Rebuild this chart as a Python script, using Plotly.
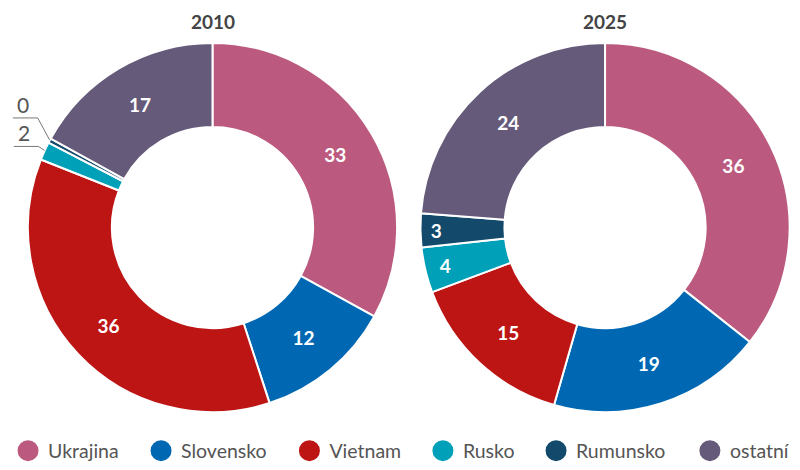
import math
import plotly.graph_objects as go

# Data
countries = ["Ukrajina", "Slovensko", "Vietnam", "Rusko", "Rumunsko", "ostatní"]
colors = ["#bb5a7e", "#0068b3", "#bd1414", "#00a0b8", "#134a6b", "#665a7a"]
values_2010 = [33, 12, 36, 1.6, 0.4, 17]
values_2025 = [36, 19, 15, 4, 3, 24]
years = ["2010", "2025"]

W, H = 800, 470
OFF = 8  # the page body adds an 8px margin, so draw everything 8px up/left
FONT = "Lato"
GREY = "#555555"

# donut geometry in screen pixels (centre x, centre y, radius)
donuts = [(208, 227.5, 186), (603.5, 227.5, 186)]
HOLE = 0.545
# legend: screen x of each round marker, common centre line
legend_x = [21, 155, 304.5, 439, 553, 708]
legend_y = 451


def px(x, y):
    return (x - OFF) / W, 1 - (y - OFF) / H


def outer_point(values, idx, cx, cy, r):
    # middle of slice idx, clockwise from 12 o'clock
    total = sum(values)
    before = sum(values[:idx]) + values[idx] / 2
    ang = 2 * math.pi * before / total
    return cx + r * math.sin(ang), cy - r * math.cos(ang)


fig = go.Figure()

for year, vals, (cx, cy, r) in zip(years, [values_2010, values_2025], donuts):
    x0, y1 = px(cx - r, cy - r)
    x1, y0 = px(cx + r, cy + r)
    # slices too thin for an inside label get a callout instead
    positions = ["inside" if v >= 2.5 else "none" for v in vals]
    fig.add_trace(go.Pie(
        labels=countries,
        values=vals,
        hole=HOLE,
        sort=False,
        direction="clockwise",
        rotation=0,
        domain=dict(x=[x0, x1], y=[y0, y1]),
        marker=dict(colors=colors, line=dict(color="white", width=2)),
        texttemplate="%{value:.0f}",
        textposition=positions,
        insidetextorientation="horizontal",
        textfont=dict(family=FONT, size=19, color="white", weight="bold"),
        showlegend=False,
        hoverinfo="label+value",
    ))
    tx = px(cx, 0)[0]
    fig.add_annotation(x=tx, y=1, xref="paper", yref="paper", text=year,
                       showarrow=False, xanchor="center", yanchor="top",
                       font=dict(family=FONT, size=19, color="#444444", weight="bold"))

# callouts for the tiny 2010 slices
cx, cy, r = donuts[0]
for idx, (dx, dy) in [(4, (-12, -22)), (3, (-6, -4))]:
    ox, oy = outer_point(values_2010, idx, cx, cy, r)
    ex, ey = ox + dx, oy + dy
    lx = ex - 25
    p0, p1, p2 = px(ox, oy), px(ex, ey), px(lx, ey)
    fig.add_shape(type="path", xref="paper", yref="paper",
                  path=f"M {p0[0]} {p0[1]} L {p1[0]} {p1[1]} L {p2[0]} {p2[1]}",
                  line=dict(color="#777777", width=1))
    ax, ay = px(ex - 15, ey + 1)
    fig.add_annotation(x=ax, y=ay, xref="paper", yref="paper",
                       text=f"{values_2010[idx]:.0f}", showarrow=False,
                       yanchor="bottom", xanchor="center",
                       font=dict(family=FONT, size=21, color=GREY))

# legend: one small legend per country so each entry sits where it should
legends = {}
for i, (name, col, lx) in enumerate(zip(countries, colors, legend_x)):
    key = "legend" if i == 0 else f"legend{i + 1}"
    fig.add_trace(go.Scatter(x=[None], y=[None], mode="markers", name=name,
                             legend=key,
                             marker=dict(symbol="circle", size=16, color=col,
                                         line=dict(color=col, width=5))))
    gx, gy = px(lx - 19, legend_y)
    legends[key] = dict(orientation="h", x=gx, xanchor="left", y=gy, yanchor="middle",
                        font=dict(family=FONT, size=19.5, color=GREY),
                        itemsizing="trace", bgcolor="rgba(0,0,0,0)")

fig.update_layout(
    width=W, height=H,
    margin=dict(l=0, r=0, t=0, b=0),
    paper_bgcolor="white",
    plot_bgcolor="white",
    xaxis=dict(visible=False),
    yaxis=dict(visible=False),
    font=dict(family=FONT),
    **legends,
)

fig.write_html("out.html")
